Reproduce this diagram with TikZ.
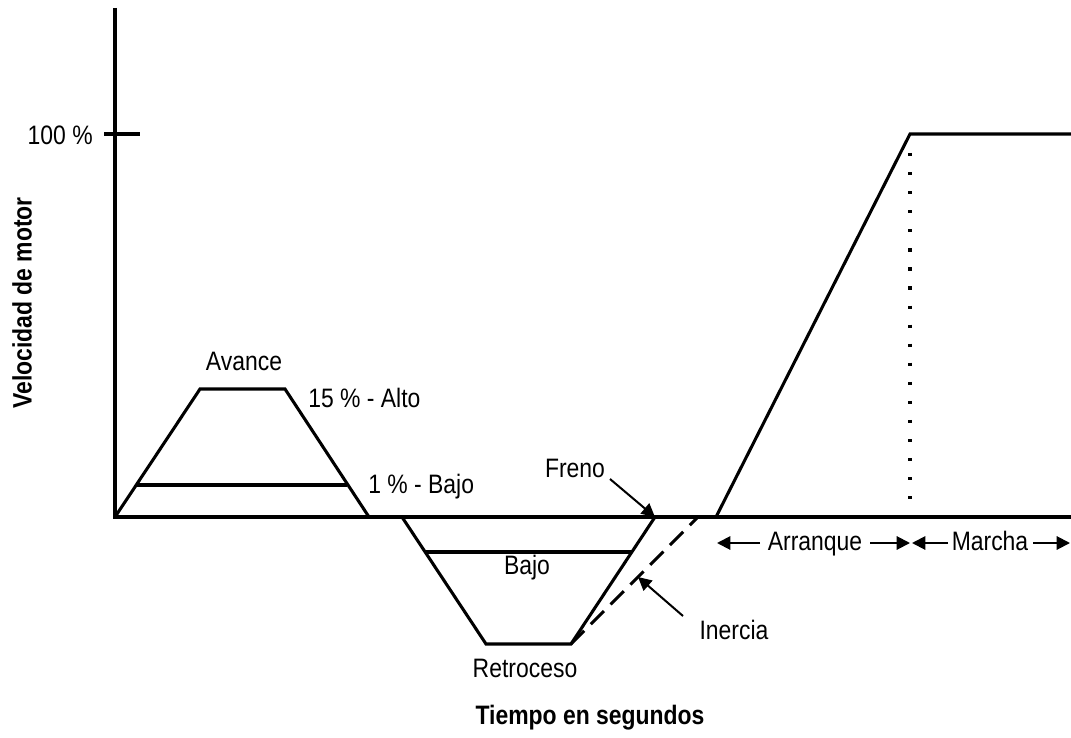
\documentclass[tikz,border=0pt]{standalone}
\usepackage{fontspec}
\setmainfont{Liberation Sans}[FakeStretch=0.86]
\usetikzlibrary{shapes,arrows,arrows.meta, positioning}

\begin{document}
\begin{tikzpicture}[x=0.75pt,y=-0.75pt,>={Triangle[length=10pt,width=10pt]},
	curve/.style={line width=2.3pt, line join=miter},
	txt/.style={font=\fontsize{20}{24}\selectfont, inner sep=0pt},
	pointer/.style={->, line width=1.5pt}]
\useasboundingbox (0,0) rectangle (1071,738);

% axes, origin at (o)
\coordinate (o) at (115,517);
\coordinate (ytop) at (115,8);
\coordinate (xend) at (1071,517);
\draw[curve] (ytop) -- (o) -- (xend);
\draw[curve] (104,134) coordinate (tickl) -- (140,134) coordinate (tickr);
\node[txt, anchor=east] (full) at (93,135) {100 \%};
\node[txt, font=\fontsize{20}{24}\selectfont\bfseries, rotate=90] (yname) at (22,303) {Velocidad de motor};
\node[txt, font=\fontsize{20}{24}\selectfont\bfseries] (xname) at (590,718) {Tiempo en segundos};

% avance (forward jog)
\draw[curve] (o) -- (200,389) coordinate (avl) -- (285,389) coordinate (avr) -- (369,517) coordinate (ave);
\draw[curve] (137,485) coordinate (bajol) -- (347,485) coordinate (bajor);
\node[txt] (avance) at (244,361) {Avance};
\node[txt, anchor=west] (alto) at (308,398) {15 \% - Alto};
\node[txt, anchor=west] (bajo) at (368,487) {1 \% - Bajo};

% retroceso (reverse jog)
\draw[curve] (402,517) coordinate (res) -- (486,644) coordinate (rel) -- (571,644) coordinate (rer) -- (655,517) coordinate (ree);
\draw[curve] (425,552) coordinate (rbl) -- (632,552) coordinate (rbr);
\draw[curve, dash pattern=on 14pt off 7pt] (rer) -- (698,517) coordinate (ine);
\node[txt] (rbajo) at (527,568) {Bajo};
\node[txt] (retro) at (525,668) {Retroceso};

% freno / inercia
\node[txt] (freno) at (575,468) {Freno};
\coordinate (frenoa) at (610,479);
\draw[pointer] (frenoa) -- (ree);
\node[txt] (inercia) at (734,630) {Inercia};
\coordinate (inerciaa) at (683,616);
\draw[pointer] (inerciaa) -- (638,577);

% arranque y marcha
\draw[curve] (716,517) coordinate (arr) -- (910,134) coordinate (top) -- (1071,134) coordinate (topend);
\draw[line width=2.4pt, dash pattern=on 2.4pt off 11.9pt] (910,153) coordinate (dot) -- (910,517) coordinate (topbase);
\node[txt, anchor=base] (arranque) at (815,550) {Arranque};
\node[txt, anchor=base] (marcha) at (990,550) {Marcha};
\draw[pointer] (760,543) coordinate (a1) -- (717,543);
\draw[pointer] (870,543) coordinate (a2) -- (910,543);
\draw[pointer] (948,543) coordinate (m1) -- (912,543);
\draw[pointer] (1033,543) coordinate (m2) -- (1070,543);
\end{tikzpicture}
\end{document}
